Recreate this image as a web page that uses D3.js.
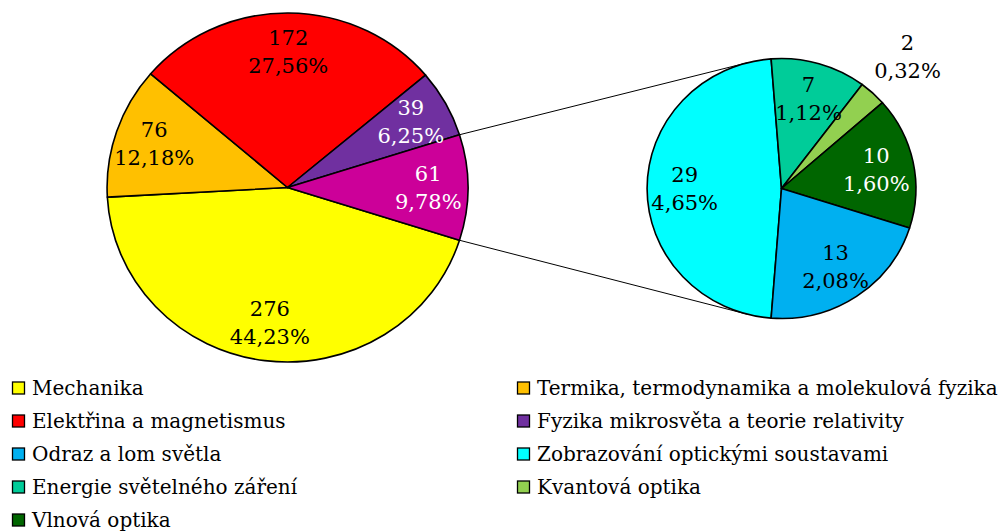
<!DOCTYPE html>
<html>
<head>
<meta charset="utf-8">
<script src="https://cdn.jsdelivr.net/npm/d3@7"></script>
<style>
  body { margin: 0; background: #fff; }
  svg { display: block; font-family: "DejaVu Serif", "Liberation Serif", serif; }
</style>
</head>
<body>
<script>
// main pie
const mainNames = [
  "Mechanika",
  "Termika, termodynamika a molekulová fyzika",
  "Elektřina a magnetismus",
  "Fyzika mikrosvěta a teorie relativity",
  "Optika"
];
const mainValues = [276, 76, 172, 39, 61];
const mainColors = ["#FFFF00", "#FFC000", "#FF0000", "#7030A0", "#CC0099"];

// secondary pie (breakdown of optics), clockwise from the left slice
const subNames = [
  "Zobrazování optickými soustavami",
  "Energie světelného záření",
  "Kvantová optika",
  "Vlnová optika",
  "Odraz a lom světla"
];
const subValues = [29, 7, 2, 10, 13];
const subColors = ["#00FFFF", "#00CC99", "#92D050", "#006600", "#00B0F0"];

// legend order
const legendNames = [
  "Mechanika",
  "Termika, termodynamika a molekulová fyzika",
  "Elektřina a magnetismus",
  "Fyzika mikrosvěta a teorie relativity",
  "Odraz a lom světla",
  "Zobrazování optickými soustavami",
  "Energie světelného záření",
  "Kvantová optika",
  "Vlnová optika"
];

const width = 1005;
const height = 532;
const sx = 1.034; // picture is slightly stretched horizontally

const total = d3.sum(mainValues);
const cz = d3.formatLocale({ decimal: ",", thousands: " ", grouping: [3], currency: ["", " Kč"] });
const pct = cz.format(".2%");

const colorOf = {};
mainNames.forEach((n, i) => (colorOf[n] = mainColors[i]));
subNames.forEach((n, i) => (colorOf[n] = subColors[i]));

const svg = d3.select("body").append("svg")
  .attr("width", width)
  .attr("height", height);

const main = { cx: 287.5 / sx, cy: 187.5, r: 174.5 };
const sub = { cx: 781.5 / sx, cy: 188.5, r: 130 };

const otherFrac = mainValues[4] / total;
const mainPie = d3.pie().sort(null)
  .startAngle(Math.PI / 2 + otherFrac * Math.PI)
  .endAngle(Math.PI / 2 + otherFrac * Math.PI + 2 * Math.PI);

const subFrac = subValues[0] / d3.sum(subValues);
const subPie = d3.pie().sort(null)
  .startAngle(1.5 * Math.PI - subFrac * Math.PI)
  .endAngle(1.5 * Math.PI - subFrac * Math.PI + 2 * Math.PI);

const stretched = svg.append("g").attr("transform", `scale(${sx},1)`);

// connector lines from the optics slice to the secondary pie (tangents)
const half = otherFrac * Math.PI;
const ends = [Math.PI / 2 - half, Math.PI / 2 + half].map((a) => [
  main.cx + main.r * Math.sin(a),
  main.cy - main.r * Math.cos(a)
]);
ends.forEach((p, i) => {
  const dx = p[0] - sub.cx, dy = p[1] - sub.cy;
  const d = Math.hypot(dx, dy);
  const base = Math.atan2(dy, dx);
  const off = Math.acos(sub.r / d);
  const t = i === 0 ? base + off : base - off;
  stretched.append("line")
    .attr("x1", p[0]).attr("y1", p[1])
    .attr("x2", sub.cx + sub.r * Math.cos(t))
    .attr("y2", sub.cy + sub.r * Math.sin(t))
    .attr("stroke", "#000")
    .attr("stroke-width", 1)
    .attr("vector-effect", "non-scaling-stroke");
});

function drawPie(cfg, pie, values, colors, labelK) {
  const arcs = pie(values);
  const arc = d3.arc().innerRadius(0).outerRadius(cfg.r);
  const g = stretched.append("g").attr("transform", `translate(${cfg.cx},${cfg.cy})`);
  g.selectAll("path")
    .data(arcs)
    .join("path")
    .attr("d", arc)
    .attr("fill", (d, i) => colors[i])
    .attr("stroke", "#000")
    .attr("stroke-width", 1.6)
    .attr("stroke-linejoin", "round")
    .attr("vector-effect", "non-scaling-stroke");

  arcs.forEach((d, i) => {
    const a = (d.startAngle + d.endAngle) / 2;
    const small = d.endAngle - d.startAngle < 0.3;
    const rr = cfg.r * (small ? 1.38 : labelK);
    const x = (cfg.cx + rr * Math.sin(a)) * sx;
    const y = cfg.cy - rr * Math.cos(a);
    const fill = !small && d3.lab(colors[i]).l < 50 ? "#fff" : "#000";
    const t = svg.append("text")
      .attr("text-anchor", "middle")
      .attr("font-size", 21)
      .attr("fill", fill);
    t.append("tspan").attr("x", x).attr("y", y - 14).attr("dy", "0.35em").text(d.data);
    t.append("tspan").attr("x", x).attr("y", y + 14).attr("dy", "0.35em").text(pct(d.data / total));
  });
}

drawPie(main, mainPie, mainValues, mainColors, 0.78);
drawPie(sub, subPie, subValues, subColors, 0.72);

// legend
const legend = svg.append("g").attr("font-size", 20);
const colX = [12, 517];
const rowY = d3.scalePoint().domain(d3.range(5)).range([388, 520]);
legendNames.forEach((name, i) => {
  const x = colX[i % 2];
  const y = rowY(Math.floor(i / 2));
  legend.append("rect")
    .attr("x", x + 0.5).attr("y", y - 6)
    .attr("width", 12).attr("height", 12)
    .attr("fill", colorOf[name])
    .attr("stroke", "#000")
    .attr("stroke-width", 1.3);
  legend.append("text")
    .attr("x", x + 20).attr("y", y)
    .attr("dy", "0.35em")
    .text(name);
});
</script>
</body>
</html>
